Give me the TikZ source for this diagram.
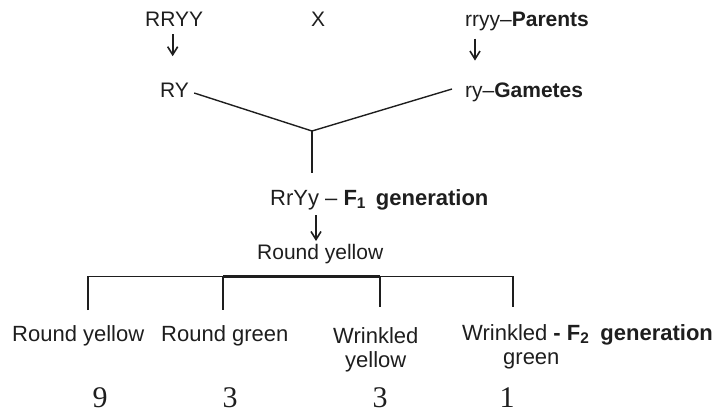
\documentclass[tikz,border=0pt]{standalone}
\usepackage{fontspec}
\setmainfont{Liberation Sans}
\newfontfamily\numfont{Liberation Serif}
\usetikzlibrary{arrows.meta}
\definecolor{ink}{HTML}{1E1E1E}
\tikzset{
  lbl/.style={font=\fontsize{21}{25}\selectfont, text=ink, inner sep=0pt, anchor=base west},
  lblb/.style={lbl, font=\fontsize{22}{26}\selectfont},
  num/.style={font=\numfont\fontsize{30}{34}\selectfont, text=ink, inner sep=0pt, anchor=base},
  link/.style={line width=1.4pt, draw=ink},
  down/.style={line width=1.7pt, draw=ink, -{Straight Barb[length=8pt,width=10pt,line width=1.6pt]}},
  bar/.style={line width=1.6pt, draw=ink},
  midbar/.style={line width=2.2pt, draw=ink},
  heavybar/.style={line width=2.8pt, draw=ink},
}
\begin{document}
\begin{tikzpicture}[x=1pt,y=-1pt]
\useasboundingbox (0,0) rectangle (717,413);

% parents
\node[lbl] (p1) at (145,26) {RRYY};
\node[lbl, anchor=base] (cross) at (318,26) {X};
\node[lbl] (p2) at (465,26) {rryy--\textbf{Parents}};

% gametes
\node[lbl] (g1) at (160,97) {RY};
\node[lbl] (g2) at (465,97) {ry--\textbf{Gametes}};

\draw[down] ([shift={(-1.5,8)}]p1.south) -- ++(0,22);
\draw[down] ([shift={(10,8)}]p2.south west) -- ++(0,22);

% fertilisation
\coordinate (j) at (312,131);
\coordinate (jb) at (312,173);
\draw[link] ([shift={(5,-4)}]g1.base east) -- (j);
\draw[link] ([shift={(-13,-8)}]g2.base west) -- (j);
\draw[link] (j) -- (jb);

% F1
\node[lblb] (f1) at (270,205) {RrYy -- \textbf{F\textsubscript{1}\hspace{0.45em}generation}};
\node[lbl] (ph1) at (257,259) {Round yellow};
\draw[down] ([shift={(46,10)}]f1.base west) -- ++(0,26);

% F2 branching
\coordinate (b1) at (88,276.5);
\coordinate (b2) at (223,276.5);
\coordinate (b3) at (380,276.5);
\coordinate (b4) at (513,276.5);
\coordinate (e1) at (88,310);
\coordinate (e2) at (223,310);
\coordinate (e3) at (380,307);
\coordinate (e4) at (513,307);
\draw[bar] (e1) -- (b1) -- (b2);
\draw[bar] (b3) -- (b4) -- (e4);
\draw[heavybar] (b2) -- (b3);
\draw[midbar] (b2) -- (e2);
\draw[bar] (b3) -- (e3);

% F2 phenotypes
\node[lblb] (o1) at (12,341) {Round yellow};
\node[lblb] (o2) at (161,341) {Round green};
\node[lblb] (o3a) at (333,343) {Wrinkled};
\node[lblb] (o3b) at (345,367) {yellow};
\node[lblb] (o4a) at (462,340) {Wrinkled \textbf{- F\textsubscript{2}\hspace{0.5em}generation}};
\node[lblb] (o4b) at (503,364) {green};

% ratio
\node[num] (n1) at (100,407) {9};
\node[num] (n2) at (230,407) {3};
\node[num] (n3) at (380,407) {3};
\node[num] (n4) at (507,407) {1};
\end{tikzpicture}
\end{document}
